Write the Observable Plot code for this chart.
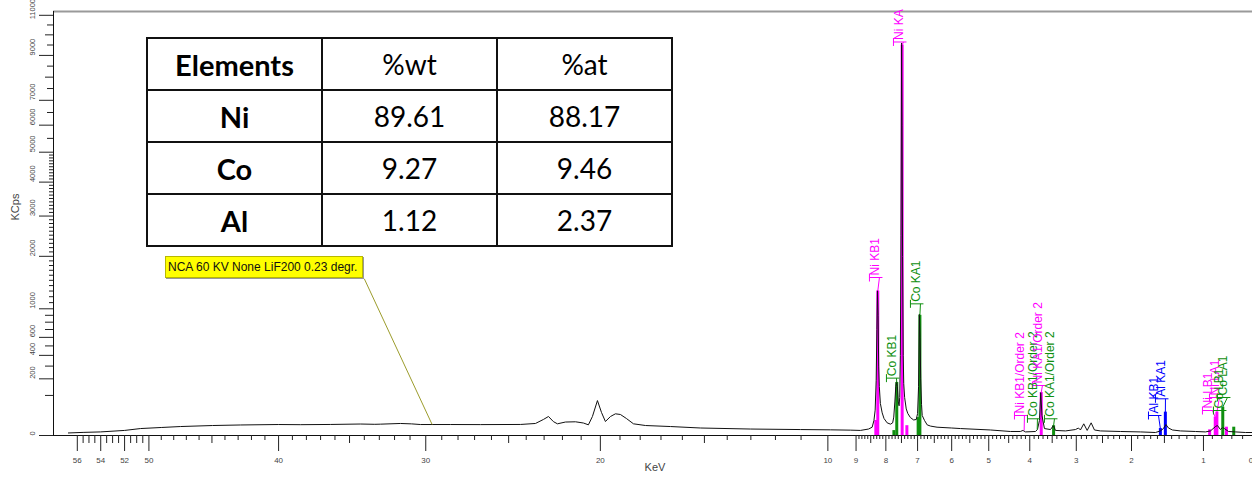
<!DOCTYPE html>
<html><head><meta charset="utf-8">
<script src="https://cdn.jsdelivr.net/npm/d3@7"></script>
<script src="https://cdn.jsdelivr.net/npm/@observablehq/plot@0.6"></script>
<style>
html,body{margin:0;padding:0;background:#fff;}
#wrap{position:relative;width:1252px;height:478px;overflow:hidden;}
#tbl{position:absolute;left:146px;top:37px;border-collapse:collapse;table-layout:fixed;background:#fff;font-family:Lato,"Open Sans",sans-serif;color:#000;}
#tbl td{border:2px solid #111;text-align:center;padding:0;height:50px;font-size:28px;}
#tbl td.b{font-weight:bold;font-size:29px;}
#note{position:absolute;left:165px;top:256px;width:198px;height:22px;box-sizing:border-box;background:#ffff00;border:1px solid #b8b800;box-shadow:1px 1px 0 #999;font:12px "Liberation Sans",Arial,sans-serif;line-height:20px;padding-left:2px;color:#111;white-space:nowrap;}
</style>
</head><body>
<div id="wrap"></div>
<script>
// ---------- spectrum (keV, KCps) ----------
const energyKeV = [56.77,55.5,54.02,52.0,50.69,49.0,47.47,44.96,42.82,40.02,38.43,36.32,34.27,33.3,32.93,31.62,30.9,30.34,28.47,26.65,24.32,23.48,23.04,22.76,22.49,22.27,21.84,21.30,20.88,20.62,20.41,20.15,19.94,19.74,19.48,19.23,18.98,18.68,18.33,17.74,16.55,15.17,13.01,11.02,9.90,9.2,8.85,8.574,8.452,8.393,8.352,8.318,8.295,8.275,8.255,8.235,8.215,8.18,8.12,8.06,7.958,7.85,7.78,7.745,7.71,7.68,7.655,7.63,7.60,7.575,7.555,7.535,7.515,7.495,7.48,7.465,7.445,7.428,7.40,7.35,7.30,7.22,7.12,7.04,7.0,6.97,6.945,6.925,6.905,6.88,6.86,6.79,6.71,6.61,6.42,6.0,5.755,4.956,4.457,4.219,4.158,4.10,3.870,3.825,3.780,3.751,3.724,3.669,3.537,3.473,3.430,3.220,3.017,2.957,2.918,2.853,2.787,2.711,2.649,2.538,2.184,1.857,1.629,1.557,1.514,1.478,1.4436,1.389,1.2824,1.094,0.977,0.921,0.8666,0.8453,0.8138,0.7932,0.7729,0.7329,0.6655,0.5749,0.52];
const countsKCps = [0.4,0.6,0.8,1.6,3.0,4.0,5.0,6.2,6.9,7.5,7.3,7.6,8.2,7.8,8.0,9.0,8.4,7.5,7.5,7.4,7.6,9.0,16,22.5,12,8.5,11.3,11.7,9.7,7.1,22.5,76,33,12.2,22.5,29.3,27.5,18,8.5,6.2,5.0,3.5,2.6,2.2,2.0,1.8,1.6,2.6,4.3,14,40,190,700,1310,900,300,150,64,32,18,10,8,10,21,70,150,180,150,70,55,90,400,2500,9600,6000,2000,400,168,90,44,30,20,15,16,30,150,920,600,200,60,25,14,7,5.5,4.3,3.5,3.0,1.9,1.0,1.0,1.6,0.8,1.0,2.2,14,115,25,3.0,2.2,6.2,1.6,1.3,2.2,3.5,1.9,8.5,1.6,10,1.9,1.3,1.0,0.8,0.56,1.3,3.0,7.5,3.5,1.9,1.3,1.0,0.8,1.3,5.0,6.2,2.2,4.0,3.0,1.0,0.8,0.56,0.56];

// ---------- line markers (sticks) ----------
const stickEnergy  = [8.265,8.33,7.478,7.33,3.74,0.8688,0.8513,0.93,0.753, 7.649,6.930,6.983,7.74,3.47,0.79,0.6816, 1.4867,1.5575];
const stickCounts  = [1300,14,9500,6,115,21,34,2,4.3, 175,900,20,1.5,6,50,4.3, 34,3];
const stickElement = ["Ni","Ni","Ni","Ni","Ni","Ni","Ni","Ni","Ni", "Co","Co","Co","Co","Co","Co","Co", "Al","Al"];

// ---------- line labels ----------
const labelNames   = ["Ni KA","Ni KB1","Co KA1","Co KB1","Ni KB1/Order 2","Co KB1/Order 2","Ni KA1/Order 2","Co KA1/Order 2","Al KB1","Al KA1","Ni LB1","Ni LA1","Co LB1","Co LA1"];
const labelElement = ["Ni","Ni","Co","Co","Ni","Co","Ni","Co","Al","Al","Ni","Ni","Co","Co"];
const labelEnergy  = [7.437,8.210,6.913,7.659,4.123,3.825,3.713,3.451,1.585,1.4853,0.899,0.824,0.783,0.7428];
const labelCounts  = [9647,1555,1080,205,24.9,17.4,155.7,17.4,24.9,83.9,38.9,90,38.9,90];
const peakEnergy   = [7.478,8.265,6.930,7.649,4.13,3.83,3.74,3.47,1.5575,1.4867,0.8688,0.8513,0.7914,0.79];
const peakCounts   = [9500,1300,900,175,1.6,2.2,115,6,3,34,21,34,4,50];

const elementNames  = ["Ni","Co","Al"];
const elementColors = ["#ff00ff","#0f8f0f","#0000ff"];

// ---------- axes ----------
const xTickValues = [56,54,52,50,40,30,20,10,9,8,7,6,5,4,3,2,1,0.5];
const xTickLabels = ["56","54","52","50","40","30","20","10","9","8","7","6","5","4","3","2","1","0.5"];
const yTickValues = [0,200,400,600,1000,2000,3000,4000,5000,6000,7000,9000,11000];
const yTickLabels = ["0","200","400","600","1000","2000","3000","4000","5000","6000","7000","9000","11000"];
const xTitle = "KeV", yTitle = "KCps";

// ---------- annotation ----------
const noteText = "NCA 60 KV None LiF200 0.23 degr.";
const noteFromEnergy = 34.0, noteFromCounts = 1530, noteToEnergy = 29.6, noteToCounts = 7.5;

// ---------- table ----------
const tableHeader = ["Elements","%wt","%at"];
const tableElements = ["Ni","Co","Al"];
const wtPercent = ["89.61","9.27","1.12"];
const atPercent = ["88.17","9.46","2.37"];

// ---------- build ----------
const W=1252,H=478,ML=53,MR=0,MT=11,MB=43;
const FW=W-ML-MR, FH=H-MT-MB;
const xDomain=[58.07,0.515], yDomain=[0,11200];

const spectrum = energyKeV.map((e,i)=>({e, c: countsKCps[i]}));
const sticks = stickEnergy.map((e,i)=>({e, c: stickCounts[i], element: stickElement[i]}));
const labels = labelNames.map((name,i)=>({name, element: labelElement[i], ax: labelEnergy[i], ay: labelCounts[i], px: peakEnergy[i], py: peakCounts[i]}));
const xTicks = xTickValues.map((v,i)=>({v, label: xTickLabels[i]}));
const yTicks = yTickValues.map((v,i)=>({v, label: yTickLabels[i]}));
const yTicksLow = yTicks.slice(0, -1), yTicksTop = yTicks.slice(-1);

const without = (arr, excl) => arr.filter(v => !excl.some(e => Math.abs(e - v) < 1e-6));
const r1 = v => Math.round(v*10)/10;
const xMinor1 = without(d3.range(11, 50, 1), [15,20,25,30,35,40,45]);
const xMid = [55.5,55,54.5,53.5,53,52.5,51.5,51,50.5,45,35,25,15, ...d3.range(1.5, 9, 1)];
const xFine = without(d3.range(6, 90, 1).map(v=>r1(v/10)), [...d3.range(1,10,1), ...d3.range(0.5,9,1)]);
const yMid = [100,300,500,700,800,900,8000,10000];
const ySmall = [5500,6500,7500,8500,9500,10500];
const yFine = without(d3.range(1100, 5000, 100), [2000,3000,4000]);

const tickX = (vals, len) => Plot.ruleX(vals, {x: d=>d, insetTop: FH-len, dy: len, stroke: "#222", strokeWidth: 1});
const tickY = (vals, len) => Plot.ruleY(vals, {y: d=>d, insetRight: FW-len, dx: -len, stroke: "#222", strokeWidth: 1});

const bracket = {draw(ctx){ ctx.moveTo(-10,-4); ctx.lineTo(-10,4); ctx.moveTo(-10,0); ctx.lineTo(3,0); }};

const yLabelStyle = {y: "v", text: "label", frameAnchor: "left", dx: -21, rotate: -90, fontSize: 7.5, fill: "#444"};

const chart = Plot.plot({
  width: W, height: H,
  marginLeft: ML, marginRight: MR, marginTop: MT, marginBottom: MB,
  style: {fontFamily: '"Liberation Sans", Arial, sans-serif', background: "#fff"},
  x: {type: "sqrt", domain: xDomain, axis: null},
  y: {type: "sqrt", domain: yDomain, axis: null},
  color: {domain: elementNames, range: elementColors},
  marks: [
    Plot.ruleY([yDomain[1]], {stroke: "#9a9a9a", strokeWidth: 2}),
    Plot.ruleX(sticks, {x: "e", y1: 0, y2: "c", stroke: "element", strokeWidth: 3}),
    Plot.line(spectrum, {x: "e", y: "c", stroke: "#111", strokeWidth: 1}),
    Plot.link(labels, {x1: "ax", y1: "ay", x2: "px", y2: "py", stroke: "element", strokeWidth: 1}),
    Plot.dot(labels, {x: "ax", y: "ay", symbol: bracket, r: 4, stroke: "element", fill: "none", strokeWidth: 1}),
    Plot.text(labels, {x: "ax", y: "ay", text: "name", rotate: -90, textAnchor: "start", lineAnchor: "bottom", dy: -2, fill: "element", fontSize: 12}),
    Plot.link([0], {x1: () => noteFromEnergy, y1: () => noteFromCounts, x2: () => noteToEnergy, y2: () => noteToCounts, stroke: "#9c9c2c", strokeWidth: 1}),
    // axes
    Plot.ruleX([xDomain[0]], {stroke: "#111", strokeWidth: 1}),
    Plot.ruleY([yDomain[0]], {stroke: "#111", strokeWidth: 1}),
    tickX(xTickValues, 16), tickX(xMid, 8), tickX(xMinor1, 5), tickX(xFine, 4),
    tickY(yTickValues, 14), tickY(yMid, 8), tickY(ySmall, 6), tickY(yFine, 4),
    Plot.text(xTicks, {x: "v", text: "label", frameAnchor: "bottom", dy: 27, fontSize: 8, fill: "#444"}),
    Plot.text(yTicksLow, yLabelStyle),
    Plot.text(yTicksTop, {...yLabelStyle, dy: 4}),
    Plot.text([yTitle], {text: d=>d, frameAnchor: "left", dx: -38, dy: -3, rotate: -90, fontSize: 11, fill: "#444"}),
    Plot.text([xTitle], {text: d=>d, frameAnchor: "bottom", dx: 2, dy: 35, fontSize: 11, fill: "#444"})
  ]
});
const wrap = document.getElementById("wrap");
wrap.appendChild(chart);

// table overlay
const tbl = document.createElement("table");
tbl.id = "tbl";
const cg = document.createElement("colgroup");
[175,175,175].forEach(w => { const c = document.createElement("col"); c.style.width = w + "px"; cg.appendChild(c); });
tbl.appendChild(cg);
const addRow = (cells) => {
  const tr = document.createElement("tr");
  cells.forEach((t,i) => { const td = document.createElement("td"); td.textContent = t; if (i===0) td.className = "b"; tr.appendChild(td); });
  tbl.appendChild(tr);
};
addRow(tableHeader);
tableElements.forEach((el,i) => addRow([el, wtPercent[i], atPercent[i]]));
wrap.appendChild(tbl);

// annotation box
const note = document.createElement("div");
note.id = "note";
note.textContent = noteText;
wrap.appendChild(note);
</script>
</body></html>
